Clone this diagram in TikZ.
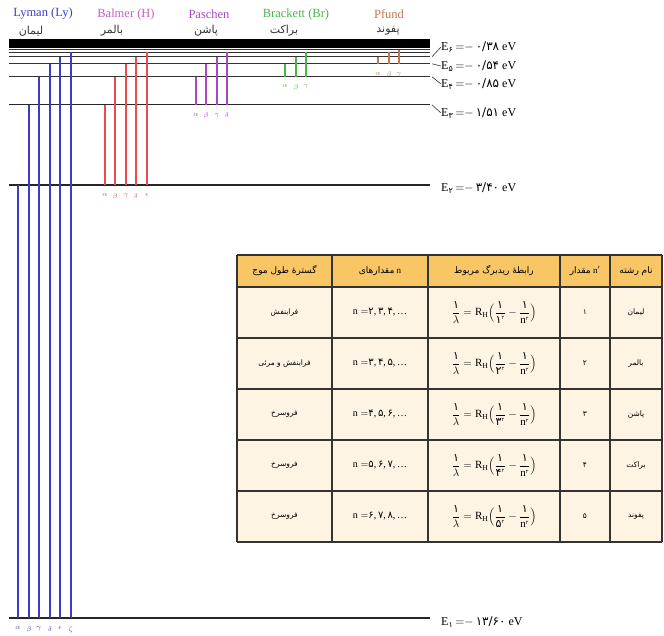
\documentclass[tikz,border=0pt]{standalone}
\usepackage{fontspec}
\setmainfont{Liberation Serif}
\newfontfamily\fa[Script=Arabic]{DejaVu Sans}
\TeXXeTstate=1
\usetikzlibrary{positioning}
\definecolor{lyblue}{RGB}{60,60,200}
\definecolor{hred}{RGB}{232,76,76}
\definecolor{hpink}{RGB}{196,96,196}
\definecolor{papurple}{RGB}{168,70,196}
\definecolor{brgreen}{RGB}{70,184,70}
\definecolor{pfbrown}{RGB}{196,116,84}
\definecolor{headfill}{RGB}{248,198,100}
\definecolor{cellfill}{RGB}{253,244,228}

\newcommand{\per}[1]{{\fa\beginR #1\endR}}
\newcommand{\grk}[1]{\ifcase#1\or$\alpha$\or$\beta$\or$\gamma$\or$\delta$\or$\epsilon$\or$\zeta$\fi}
\newcommand{\ryd}[1]{$\displaystyle\frac{\mbox{\fa ۱}}{\lambda}=\mathrm{R}_{\mathrm{H}}\Big(\frac{\mbox{\fa ۱}}{\mbox{\fa #1}^{\mbox{\fa\tiny ۲}}}-\frac{\mbox{\fa ۱}}{\mathrm{n}^{\mbox{\fa\tiny ۲}}}\Big)$}
\newcommand{\nlist}[3]{$\mathrm{n}=${\fa #1},\,{\fa #2},\,{\fa #3},\,\dots}
\newcommand{\En}[2]{E\textsubscript{\fa #1}$\,{=}{-}\,${\fa #2} eV}

\begin{document}
\begin{tikzpicture}[x=1pt,y=-1pt,
    level/.style={line width=1.2pt,black!85},
    band/.style={line width=0.9pt,black!80},
    trans/.style={line width=1.5pt},
    greek/.style={font=\scriptsize,inner sep=0pt},
    series/.style={font=\fontsize{12.5}{14}\selectfont,inner sep=0pt},
    pername/.style={font=\fontsize{11}{13}\selectfont,inner sep=0pt,text=black!80},
    elabel/.style={font=\fontsize{12}{14}\selectfont,anchor=west,inner sep=0pt},
    grid/.style={line width=1.2pt,black!80},
    cell/.style={font=\fontsize{7.5}{9}\selectfont,inner sep=0pt},
    headcell/.style={font=\fontsize{9}{11}\selectfont,inner sep=0pt}]
  \useasboundingbox (0,0) rectangle (664,635);
  \def\xl{9} \def\xr{430}
  % energy levels, y = 40.7 + 577.3/n^2
  \foreach \n in {1,...,9}{
    \pgfmathsetmacro\yy{40.7+577.3/(\n*\n)}
    \coordinate (L\n) at (\xl,\yy);
    \coordinate (R\n) at (\xr,\yy);
  }
  \foreach \n in {1,2,3}{\draw[level] (L\n) -- (R\n);}
  \foreach \n in {4,...,9}{\draw[band] (L\n) -- (R\n);}
  \fill[black] (\xl,39) rectangle (\xr,47.5);

  % series lines
  \foreach \m/\k/\x/\col in {1/6/18/lyblue,2/5/104.5/hred,3/4/195.5/papurple,4/3/285/brgreen,5/3/378/pfbrown}{
    \foreach \i in {1,...,\k}{
      \pgfmathsetmacro\xx{round(\x+10.5*(\i-1))}
      \pgfmathsetmacro\yt{40.7+577.3/((\m+\i)*(\m+\i))}
      \pgfmathsetmacro\yb{40.7+577.3/(\m*\m)}
      \coordinate (t\m\i) at (\xx,\yt);
      \coordinate (b\m\i) at (\xx,\yb);
      \draw[trans,\col] (t\m\i) -- (b\m\i);
      \node[greek,text=\col,below=8pt of b\m\i] (g\m\i) {\grk{\i}};
    }
  }

  % series names
  \node[series,text=lyblue] (lyman) at (43,14) {Lyman (Ly)};
  \node[pername] (lymanfa) at (31,31) {\per{لیمان}};
  \node[series,text=hpink] (balmer) at (126,14) {Balmer (H)};
  \node[pername] (balmerfa) at (112,31) {\per{بالمر}};
  \node[series,text=papurple] (paschen) at (209,14) {Paschen};
  \node[pername] (paschenfa) at (206,31) {\per{پاشن}};
  \node[series,text=brgreen] (brackett) at (296,14) {Brackett (Br)};
  \node[pername] (brackettfa) at (284,31) {\per{براکت}};
  \node[series,text=pfbrown] (pfund) at (389,14) {Pfund};
  \node[pername] (pfundfa) at (388,31) {\per{پفوند}};

  % level values
  \node[elabel] (e6) at (441,47) {\En{۶}{۰/۳۸}};
  \node[elabel] (e5) at (441,66) {\En{۵}{۰/۵۴}};
  \node[elabel] (e4) at (441,84) {\En{۴}{۰/۸۵}};
  \node[elabel] (e3) at (441,113) {\En{۳}{۱/۵۱}};
  \node[elabel] (e2) at (441,188) {\En{۲}{۳/۴۰}};
  \node[elabel] (e1) at (441,622) {\En{۱}{۱۳/۶۰}};
  \foreach \n in {3,...,6}{\draw[line width=0.6pt,black!80] ([xshift=2pt]R\n) -- (e\n.west);}

  % table
  \fill[headfill] (237,255) rectangle (662,287);
  \fill[cellfill] (237,287) rectangle (662,542);
  \foreach \x in {237,332,428,560,610,662}{\draw[grid] (\x,255) -- (\x,542);}
  \foreach \y in {255,287,338,389,440,491,542}{\draw[grid] (237,\y) -- (662,\y);}
  \node[headcell] (h5) at (636,271) {\per{نام رشته}};
  \node[headcell] (h4) at (585,271) {\per{مقدار} $\mathrm{n}'$};
  \node[headcell] (h3) at (494,271) {\per{رابطهٔ ریدبرگ مربوط}};
  \node[headcell] (h2) at (380,271) {\per{مقدارهای} $\mathrm{n}$};
  \node[headcell] (h1) at (284.5,271) {\per{گسترهٔ طول موج}};
  \foreach \r/\sname/\nn/\na/\nb/\nc/\range in {1/لیمان/۱/۲/۳/۴/فرابنفش,
      2/بالمر/۲/۳/۴/۵/{فرابنفش و مرئی},
      3/پاشن/۳/۴/۵/۶/فروسرخ,
      4/براکت/۴/۵/۶/۷/فروسرخ,
      5/پفوند/۵/۶/۷/۸/فروسرخ}{
    \pgfmathsetmacro\yc{287+51*(\r-1)+25.5}
    \node[cell] (n\r) at (636,\yc) {\per{\sname}};
    \node[cell] (p\r) at (585,\yc) {\fa\nn};
    \node[cell,font=\fontsize{11}{13}\selectfont] (f\r) at (494,\yc) {\ryd{\nn}};
    \node[cell,font=\fontsize{10}{12}\selectfont] (s\r) at (380,\yc) {\nlist{\na}{\nb}{\nc}};
    \node[cell] (w\r) at (284.5,\yc) {\per{\range}};
  }
\end{tikzpicture}
\end{document}
